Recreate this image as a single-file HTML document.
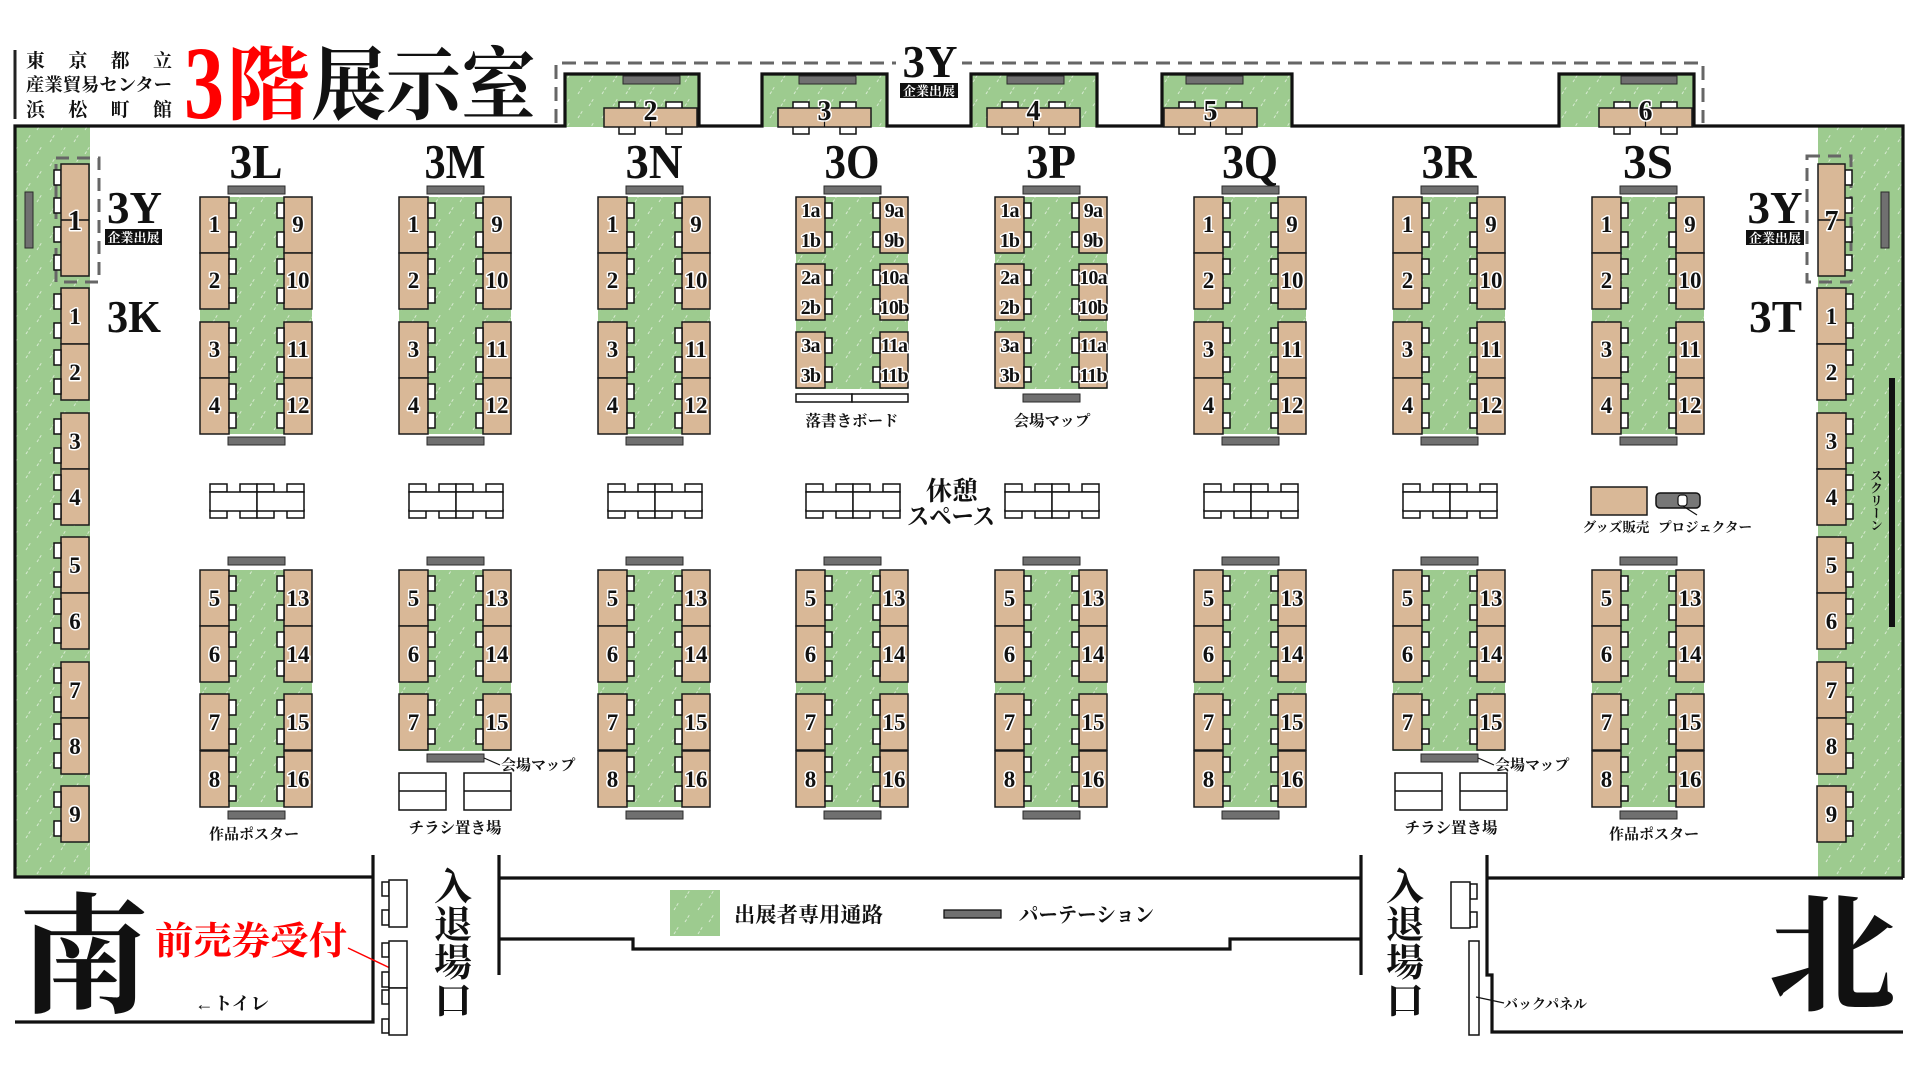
<!DOCTYPE html>
<html><head><meta charset="utf-8">
<style>
html,body{margin:0;padding:0;background:#fff;width:1920px;height:1080px;overflow:hidden}
#w{position:relative;width:1920px;height:1080px;background:#fff}
svg{position:absolute;left:0;top:0}
.t{fill:#d9b897;stroke:#1a1a1a;stroke-width:1.5}
.c{fill:#fff;stroke:#111;stroke-width:1.5}
.p{fill:#707070;stroke:#2a2a2a;stroke-width:1}
.n{font-family:"Liberation Serif",serif;font-weight:bold;font-size:23px;text-anchor:middle;fill:#111;stroke:#fff;stroke-width:3px;paint-order:stroke;stroke-linejoin:round}
.s{font-size:20px;letter-spacing:-0.8px}
.b{font-size:28px}
.h{font-family:"Liberation Serif",serif;font-weight:bold;text-anchor:middle;fill:#111}
.j{font-family:"Liberation Serif","Noto Serif CJK SC",serif;font-weight:bold;fill:#111}
.m{text-anchor:middle}
.wl{fill:none;stroke:#111;stroke-width:3.2;stroke-linejoin:miter}
.vt{position:absolute;writing-mode:vertical-rl;font-family:"Liberation Serif","Noto Serif CJK SC",serif;font-weight:bold;color:#111;line-height:1}
</style></head>
<body><div id="w">
<svg width="1920" height="1080" viewBox="0 0 1920 1080" xmlns="http://www.w3.org/2000/svg">
<defs>
<pattern id="hp" width="24" height="24" patternUnits="userSpaceOnUse"><rect width="24" height="24" fill="#9dcb8f"/><path d="M2,22 L7,14 M13,10 L18,2" stroke="#fff" stroke-opacity=".6" stroke-width="1" stroke-dasharray="3 2"/></pattern>
<g id="tl"><rect class="t" width="29" height="56"/><rect class="c" x="29" y="6" width="7" height="15"/><rect class="c" x="29" y="35" width="7" height="15"/></g>
<g id="tr"><rect class="t" width="28" height="56"/><rect class="c" x="-7" y="6" width="7" height="15"/><rect class="c" x="-7" y="35" width="7" height="15"/></g>
<g id="cu"><rect x="0" y="197" width="112" height="237" fill="url(#hp)"/><rect class="p" x="28" y="186" width="57" height="8"/><rect class="p" x="28" y="437" width="57" height="8"/><use href="#tl" y="197"/><use href="#tl" y="253"/><use href="#tl" y="322"/><use href="#tl" y="378"/><use href="#tr" x="84" y="197"/><use href="#tr" x="84" y="253"/><use href="#tr" x="84" y="322"/><use href="#tr" x="84" y="378"/></g>
<g id="cl"><rect x="0" y="570" width="112" height="237" fill="url(#hp)"/><rect class="p" x="28" y="557" width="57" height="8"/><rect class="p" x="28" y="811" width="57" height="8"/><use href="#tl" y="570"/><use href="#tl" y="626"/><use href="#tl" y="694"/><use href="#tl" y="751"/><use href="#tr" x="84" y="570"/><use href="#tr" x="84" y="626"/><use href="#tr" x="84" y="694"/><use href="#tr" x="84" y="751"/></g>
<g id="c7"><rect x="0" y="570" width="112" height="181" fill="url(#hp)"/><rect class="p" x="28" y="557" width="57" height="8"/><rect class="p" x="28" y="754" width="57" height="8"/><use href="#tl" y="570"/><use href="#tl" y="626"/><use href="#tl" y="694"/><use href="#tr" x="84" y="570"/><use href="#tr" x="84" y="626"/><use href="#tr" x="84" y="694"/></g>
<g id="cab"><rect x="0" y="197" width="112" height="192" fill="url(#hp)"/><rect class="p" x="28" y="186" width="57" height="8"/><use href="#tl" y="197"/><use href="#tl" y="264"/><use href="#tl" y="332"/><use href="#tr" x="84" y="197"/><use href="#tr" x="84" y="264"/><use href="#tr" x="84" y="332"/></g>
<g id="rt"><rect class="c" x="0" y="484" width="17" height="8"/><rect class="c" x="30" y="484" width="17" height="8"/><rect class="c" x="47" y="484" width="17" height="8"/><rect class="c" x="77" y="484" width="17" height="8"/><rect class="c" x="0" y="510" width="17" height="8"/><rect class="c" x="30" y="510" width="17" height="8"/><rect class="c" x="47" y="510" width="17" height="8"/><rect class="c" x="77" y="510" width="17" height="8"/><rect class="c" x="0" y="492" width="47" height="19"/><rect class="c" x="47" y="492" width="47" height="19"/></g>
<g id="al"><rect class="c" x="15" y="102" width="16" height="7"/><rect class="c" x="62" y="102" width="16" height="7"/><rect class="c" x="15" y="126" width="16" height="8"/><rect class="c" x="62" y="126" width="16" height="8"/><rect class="t" x="0" y="108" width="93" height="19"/><line x1="46.5" y1="108" x2="46.5" y2="127" stroke="#111" stroke-width="1.2"/></g>
</defs>

<!-- header -->
<rect x="13.5" y="50" width="3" height="69" fill="#222"/>
<text class="j" x="26" y="67" font-size="19" textLength="146" lengthAdjust="spacing">東京都立</text>
<text class="j" x="26" y="91" font-size="18" textLength="146" lengthAdjust="spacingAndGlyphs">産業貿易センター</text>
<text class="j" x="26" y="116" font-size="19" textLength="146" lengthAdjust="spacing">浜松町館</text>
<text x="184" y="118" font-family="Liberation Serif,serif" font-weight="bold" font-size="104" fill="#f00" textLength="40" lengthAdjust="spacingAndGlyphs">3</text>
<text class="j" x="226" y="113" font-size="80" style="fill:#f00" textLength="84" lengthAdjust="spacingAndGlyphs" font-weight="900">階</text>
<text class="j" x="311" y="113" font-size="80" textLength="225" lengthAdjust="spacingAndGlyphs" font-weight="900">展示室</text>

<!-- green strips & alcoves -->
<rect x="15" y="126" width="75" height="751" fill="url(#hp)"/>
<rect x="1818" y="126" width="85" height="752" fill="url(#hp)"/>
<rect x="565" y="74" width="134" height="53" fill="url(#hp)"/>
<rect x="762" y="74" width="125" height="53" fill="url(#hp)"/>
<rect x="971" y="74" width="126" height="53" fill="url(#hp)"/>
<rect x="1162" y="74" width="130" height="53" fill="url(#hp)"/>
<rect x="1559" y="74" width="135" height="53" fill="url(#hp)"/>

<!-- top dashed 3Y -->
<path d="M556,123 V63 H1703 V123" fill="none" stroke="#666" stroke-width="3" stroke-dasharray="14 8"/>
<rect x="896" y="44" width="66" height="56" fill="#fff"/>
<text class="h" x="930" y="77" font-size="46" textLength="55" lengthAdjust="spacingAndGlyphs">3Y</text>
<rect x="900" y="83" width="58" height="15" fill="#111"/>
<text class="j m" x="929" y="95.5" font-size="12.5" style="fill:#fff" textLength="52" lengthAdjust="spacingAndGlyphs">企業出展</text>

<!-- walls -->
<path class="wl" d="M373,877 H15 V126 H565 V74 H699 V126 H762 V74 H887 V126 H971 V74 H1097 V126 H1162 V74 H1292 V126 H1559 V74 H1694 V126 H1903 V878"/>
<path class="wl" d="M15,1022 H373 V855"/>
<path class="wl" d="M499,855 V975 M499,878 H1361 M499,939 H633 V949 H1230 V939 H1361 M1361,855 V975"/>
<path class="wl" d="M1487,855 V975 H1492 V1032 H1903 M1487,878 H1903"/>

<!-- alcove furniture -->
<rect class="p" x="623" y="76" width="57" height="8"/>
<rect class="p" x="799" y="76" width="57" height="8"/>
<rect class="p" x="1007" y="76" width="57" height="8"/>
<rect class="p" x="1186" y="76" width="57" height="8"/>
<rect class="p" x="1621" y="76" width="56" height="8"/>
<use href="#al" x="604"/><use href="#al" x="778"/><use href="#al" x="987"/><use href="#al" x="1164"/><use href="#al" x="1599"/>
<text class="n b" x="650.5" y="120">2</text>
<text class="n b" x="824.5" y="120">3</text>
<text class="n b" x="1033.5" y="120">4</text>
<text class="n b" x="1210.5" y="120">5</text>
<text class="n b" x="1645.5" y="120">6</text>

<!-- left strip -->
<rect class="p" x="25" y="192" width="8" height="56"/>
<rect x="56" y="158" width="43" height="124" fill="none" stroke="#666" stroke-width="3" stroke-dasharray="13 8"/>
<rect class="c" x="54" y="170" width="7" height="15"/><rect class="c" x="54" y="198" width="7" height="15"/><rect class="c" x="54" y="227" width="7" height="15"/><rect class="c" x="54" y="255" width="7" height="15"/>
<rect class="t" x="61" y="164" width="28" height="112"/><line x1="61" y1="220" x2="89" y2="220" stroke="#111" stroke-width="1.5"/>
<text class="n b" x="75" y="230">1</text>
<use href="#tr" x="61" y="288"/><use href="#tr" x="61" y="344"/><use href="#tr" x="61" y="413"/><use href="#tr" x="61" y="469"/><use href="#tr" x="61" y="537"/><use href="#tr" x="61" y="593"/><use href="#tr" x="61" y="662"/><use href="#tr" x="61" y="718"/><use href="#tr" x="61" y="786"/>
<text class="n" x="75" y="324">1</text><text class="n" x="75" y="380">2</text><text class="n" x="75" y="449">3</text><text class="n" x="75" y="505">4</text><text class="n" x="75" y="573">5</text><text class="n" x="75" y="629">6</text><text class="n" x="75" y="698">7</text><text class="n" x="75" y="754">8</text><text class="n" x="75" y="822">9</text>
<text class="h" x="134.5" y="223" font-size="46" textLength="55" lengthAdjust="spacingAndGlyphs">3Y</text>
<rect x="105" y="229" width="57" height="16" fill="#111"/>
<text class="j m" x="133.5" y="242" font-size="12.5" style="fill:#fff" textLength="52" lengthAdjust="spacingAndGlyphs">企業出展</text>
<text class="h" x="134" y="332" font-size="46" textLength="54" lengthAdjust="spacingAndGlyphs">3K</text>

<!-- right strip -->
<rect class="p" x="1881" y="192" width="8" height="56"/>
<rect x="1889" y="378" width="6" height="249" fill="#111"/>
<rect x="1807" y="156" width="44" height="126" fill="none" stroke="#666" stroke-width="3" stroke-dasharray="13 8"/>
<rect class="c" x="1845" y="170" width="7" height="15"/><rect class="c" x="1845" y="198" width="7" height="15"/><rect class="c" x="1845" y="227" width="7" height="15"/><rect class="c" x="1845" y="255" width="7" height="15"/>
<rect class="t" x="1818" y="164" width="27" height="112"/><line x1="1818" y1="220" x2="1845" y2="220" stroke="#111" stroke-width="1.5"/>
<text class="n b" x="1831.5" y="230">7</text>
<use href="#tl" x="1817" y="288"/><use href="#tl" x="1817" y="344"/><use href="#tl" x="1817" y="413"/><use href="#tl" x="1817" y="469"/><use href="#tl" x="1817" y="537"/><use href="#tl" x="1817" y="593"/><use href="#tl" x="1817" y="662"/><use href="#tl" x="1817" y="718"/><use href="#tl" x="1817" y="786"/>
<text class="n" x="1831.5" y="324">1</text><text class="n" x="1831.5" y="380">2</text><text class="n" x="1831.5" y="449">3</text><text class="n" x="1831.5" y="505">4</text><text class="n" x="1831.5" y="573">5</text><text class="n" x="1831.5" y="629">6</text><text class="n" x="1831.5" y="698">7</text><text class="n" x="1831.5" y="754">8</text><text class="n" x="1831.5" y="822">9</text>
<text class="h" x="1775" y="223" font-size="46" textLength="55" lengthAdjust="spacingAndGlyphs">3Y</text>
<rect x="1746" y="230" width="58" height="15" fill="#111"/>
<text class="j m" x="1775" y="242.5" font-size="12.5" style="fill:#fff" textLength="52" lengthAdjust="spacingAndGlyphs">企業出展</text>
<text class="h" x="1775.5" y="332" font-size="46" textLength="53" lengthAdjust="spacingAndGlyphs">3T</text>

<!-- 3L -->
<g transform="translate(200,0)">
<use href="#cu"/><use href="#cl"/><use href="#rt" x="10"/>
<text class="h" x="56" y="178" font-size="49" textLength="53" lengthAdjust="spacingAndGlyphs">3L</text>
<text class="n" x="14.5" y="232">1</text><text class="n" x="14.5" y="288">2</text><text class="n" x="14.5" y="357">3</text><text class="n" x="14.5" y="413">4</text>
<text class="n" x="98" y="232">9</text><text class="n" x="98" y="288">10</text><text class="n" x="98" y="357">11</text><text class="n" x="98" y="413">12</text>
<text class="n" x="14.5" y="606">5</text><text class="n" x="14.5" y="662">6</text><text class="n" x="14.5" y="730">7</text><text class="n" x="14.5" y="787">8</text>
<text class="n" x="98" y="606">13</text><text class="n" x="98" y="662">14</text><text class="n" x="98" y="730">15</text><text class="n" x="98" y="787">16</text>
<text class="j m" x="54" y="839" font-size="15">作品ポスター</text>
</g>

<!-- 3M -->
<g transform="translate(399,0)">
<use href="#cu"/><use href="#c7"/><use href="#rt" x="10"/>
<text class="h" x="56" y="178" font-size="49" textLength="61" lengthAdjust="spacingAndGlyphs">3M</text>
<text class="n" x="14.5" y="232">1</text><text class="n" x="14.5" y="288">2</text><text class="n" x="14.5" y="357">3</text><text class="n" x="14.5" y="413">4</text>
<text class="n" x="98" y="232">9</text><text class="n" x="98" y="288">10</text><text class="n" x="98" y="357">11</text><text class="n" x="98" y="413">12</text>
<text class="n" x="14.5" y="606">5</text><text class="n" x="14.5" y="662">6</text><text class="n" x="14.5" y="730">7</text>
<text class="n" x="98" y="606">13</text><text class="n" x="98" y="662">14</text><text class="n" x="98" y="730">15</text>
<line x1="85" y1="758" x2="101" y2="765" stroke="#111" stroke-width="1.2"/>
<text class="j" x="102" y="770" font-size="15">会場マップ</text>
<rect class="c" x="0" y="773" width="47" height="37"/><line x1="0" y1="791" x2="47" y2="791" stroke="#111" stroke-width="1.5"/>
<rect class="c" x="65" y="773" width="47" height="37"/><line x1="65" y1="791" x2="112" y2="791" stroke="#111" stroke-width="1.5"/>
<text class="j m" x="56" y="833" font-size="15.5">チラシ置き場</text>
</g>

<!-- 3N -->
<g transform="translate(598,0)">
<use href="#cu"/><use href="#cl"/><use href="#rt" x="10"/>
<text class="h" x="56" y="178" font-size="49" textLength="57" lengthAdjust="spacingAndGlyphs">3N</text>
<text class="n" x="14.5" y="232">1</text><text class="n" x="14.5" y="288">2</text><text class="n" x="14.5" y="357">3</text><text class="n" x="14.5" y="413">4</text>
<text class="n" x="98" y="232">9</text><text class="n" x="98" y="288">10</text><text class="n" x="98" y="357">11</text><text class="n" x="98" y="413">12</text>
<text class="n" x="14.5" y="606">5</text><text class="n" x="14.5" y="662">6</text><text class="n" x="14.5" y="730">7</text><text class="n" x="14.5" y="787">8</text>
<text class="n" x="98" y="606">13</text><text class="n" x="98" y="662">14</text><text class="n" x="98" y="730">15</text><text class="n" x="98" y="787">16</text>
</g>

<!-- 3O -->
<g transform="translate(796,0)">
<use href="#cab"/><use href="#cl"/><use href="#rt" x="10"/>
<rect class="c" x="0" y="394" width="56" height="8"/><rect class="c" x="56" y="394" width="56" height="8"/>
<text class="j m" x="56" y="426" font-size="15.5">落書きボード</text>
<text class="h" x="56" y="178" font-size="49" textLength="55" lengthAdjust="spacingAndGlyphs">3O</text>
<text class="n s" x="14.5" y="217">1a</text><text class="n s" x="14.5" y="247">1b</text><text class="n s" x="14.5" y="284">2a</text><text class="n s" x="14.5" y="314">2b</text><text class="n s" x="14.5" y="352">3a</text><text class="n s" x="14.5" y="382">3b</text>
<text class="n s" x="98" y="217">9a</text><text class="n s" x="98" y="247">9b</text><text class="n s" x="98" y="284">10a</text><text class="n s" x="98" y="314">10b</text><text class="n s" x="98" y="352">11a</text><text class="n s" x="98" y="382">11b</text>
<text class="n" x="14.5" y="606">5</text><text class="n" x="14.5" y="662">6</text><text class="n" x="14.5" y="730">7</text><text class="n" x="14.5" y="787">8</text>
<text class="n" x="98" y="606">13</text><text class="n" x="98" y="662">14</text><text class="n" x="98" y="730">15</text><text class="n" x="98" y="787">16</text>
</g>

<!-- 3P -->
<g transform="translate(995,0)">
<use href="#cab"/><use href="#cl"/><use href="#rt" x="10"/>
<rect class="p" x="28" y="394" width="57" height="8"/>
<text class="j m" x="57" y="426" font-size="15.5">会場マップ</text>
<text class="h" x="56" y="178" font-size="49" textLength="50" lengthAdjust="spacingAndGlyphs">3P</text>
<text class="n s" x="14.5" y="217">1a</text><text class="n s" x="14.5" y="247">1b</text><text class="n s" x="14.5" y="284">2a</text><text class="n s" x="14.5" y="314">2b</text><text class="n s" x="14.5" y="352">3a</text><text class="n s" x="14.5" y="382">3b</text>
<text class="n s" x="98" y="217">9a</text><text class="n s" x="98" y="247">9b</text><text class="n s" x="98" y="284">10a</text><text class="n s" x="98" y="314">10b</text><text class="n s" x="98" y="352">11a</text><text class="n s" x="98" y="382">11b</text>
<text class="n" x="14.5" y="606">5</text><text class="n" x="14.5" y="662">6</text><text class="n" x="14.5" y="730">7</text><text class="n" x="14.5" y="787">8</text>
<text class="n" x="98" y="606">13</text><text class="n" x="98" y="662">14</text><text class="n" x="98" y="730">15</text><text class="n" x="98" y="787">16</text>
</g>

<!-- rest space label -->
<text class="j m" x="952" y="500" font-size="26">休憩</text>
<text class="j m" x="951" y="525" font-size="25" textLength="88" lengthAdjust="spacingAndGlyphs">スペース</text>

<!-- 3Q -->
<g transform="translate(1194,0)">
<use href="#cu"/><use href="#cl"/><use href="#rt" x="10"/>
<text class="h" x="56" y="178" font-size="49" textLength="56" lengthAdjust="spacingAndGlyphs">3Q</text>
<text class="n" x="14.5" y="232">1</text><text class="n" x="14.5" y="288">2</text><text class="n" x="14.5" y="357">3</text><text class="n" x="14.5" y="413">4</text>
<text class="n" x="98" y="232">9</text><text class="n" x="98" y="288">10</text><text class="n" x="98" y="357">11</text><text class="n" x="98" y="413">12</text>
<text class="n" x="14.5" y="606">5</text><text class="n" x="14.5" y="662">6</text><text class="n" x="14.5" y="730">7</text><text class="n" x="14.5" y="787">8</text>
<text class="n" x="98" y="606">13</text><text class="n" x="98" y="662">14</text><text class="n" x="98" y="730">15</text><text class="n" x="98" y="787">16</text>
</g>

<!-- 3R -->
<g transform="translate(1393,0)">
<use href="#cu"/><use href="#c7"/><use href="#rt" x="10"/>
<text class="h" x="56" y="178" font-size="49" textLength="55" lengthAdjust="spacingAndGlyphs">3R</text>
<text class="n" x="14.5" y="232">1</text><text class="n" x="14.5" y="288">2</text><text class="n" x="14.5" y="357">3</text><text class="n" x="14.5" y="413">4</text>
<text class="n" x="98" y="232">9</text><text class="n" x="98" y="288">10</text><text class="n" x="98" y="357">11</text><text class="n" x="98" y="413">12</text>
<text class="n" x="14.5" y="606">5</text><text class="n" x="14.5" y="662">6</text><text class="n" x="14.5" y="730">7</text>
<text class="n" x="98" y="606">13</text><text class="n" x="98" y="662">14</text><text class="n" x="98" y="730">15</text>
<line x1="85" y1="758" x2="101" y2="765" stroke="#111" stroke-width="1.2"/>
<text class="j" x="102" y="770" font-size="15">会場マップ</text>
<rect class="c" x="2" y="773" width="47" height="37"/><line x1="2" y1="791" x2="49" y2="791" stroke="#111" stroke-width="1.5"/>
<rect class="c" x="67" y="773" width="47" height="37"/><line x1="67" y1="791" x2="114" y2="791" stroke="#111" stroke-width="1.5"/>
<text class="j m" x="58" y="833" font-size="15.5">チラシ置き場</text>
</g>

<!-- 3S -->
<g transform="translate(1592,0)">
<use href="#cu"/><use href="#cl"/>
<text class="h" x="56" y="178" font-size="49" textLength="50" lengthAdjust="spacingAndGlyphs">3S</text>
<text class="n" x="14.5" y="232">1</text><text class="n" x="14.5" y="288">2</text><text class="n" x="14.5" y="357">3</text><text class="n" x="14.5" y="413">4</text>
<text class="n" x="98" y="232">9</text><text class="n" x="98" y="288">10</text><text class="n" x="98" y="357">11</text><text class="n" x="98" y="413">12</text>
<text class="n" x="14.5" y="606">5</text><text class="n" x="14.5" y="662">6</text><text class="n" x="14.5" y="730">7</text><text class="n" x="14.5" y="787">8</text>
<text class="n" x="98" y="606">13</text><text class="n" x="98" y="662">14</text><text class="n" x="98" y="730">15</text><text class="n" x="98" y="787">16</text>
<text class="j m" x="62" y="839" font-size="15">作品ポスター</text>
</g>

<!-- goods & projector -->
<rect class="t" x="1591" y="487" width="56" height="28"/>
<text class="j m" x="1616" y="532" font-size="13.5">グッズ販売</text>
<rect x="1656" y="493" width="44" height="15" rx="4" fill="#777" stroke="#111" stroke-width="1.5"/>
<rect x="1678" y="495" width="9" height="11" rx="3" fill="#fff" stroke="#111" stroke-width="1.2"/>
<line x1="1683" y1="506" x2="1697" y2="515" stroke="#111" stroke-width="1.2"/>
<text class="j m" x="1705" y="532" font-size="13.5">プロジェクター</text>

<!-- bottom area -->
<text class="j" x="19" y="1002" font-size="130" font-weight="900">南</text>
<text class="j" x="1768" y="1000" font-size="128" font-weight="900">北</text>
<text class="j" x="155" y="954" font-size="38" style="fill:#f00" textLength="192" lengthAdjust="spacingAndGlyphs">前売券受付</text>
<line x1="348" y1="948" x2="390" y2="968" stroke="#f00" stroke-width="1.5"/>
<text class="j" x="195" y="1010" font-size="18" font-weight="normal" textLength="74" lengthAdjust="spacingAndGlyphs">←トイレ</text>

<!-- reception desks -->
<rect class="c" x="382" y="882" width="7" height="14"/><rect class="c" x="382" y="910" width="7" height="15"/>
<rect class="c" x="389" y="880" width="18" height="47"/>
<rect class="c" x="382" y="943" width="7" height="14"/><rect class="c" x="382" y="972" width="7" height="15"/><rect class="c" x="382" y="990" width="7" height="14"/><rect class="c" x="382" y="1019" width="7" height="14"/>
<rect class="c" x="389" y="941" width="18" height="47"/><rect class="c" x="389" y="988" width="18" height="47"/>

<rect class="c" x="1470" y="884" width="7" height="15"/><rect class="c" x="1470" y="912" width="7" height="15"/>
<rect class="c" x="1451" y="882" width="19" height="46"/>
<rect class="c" x="1469" y="941" width="10" height="94"/>
<line x1="1476" y1="997" x2="1504" y2="1003" stroke="#111" stroke-width="1.2"/>
<text class="j" x="1504" y="1009" font-size="14">バックパネル</text>

<!-- entrances -->
<text class="j m" x="453" y="900" font-size="38">入</text>
<text class="j m" x="453" y="938" font-size="38">退</text>
<text class="j m" x="453" y="976" font-size="38">場</text>
<text class="j m" x="453" y="1014" font-size="38">口</text>
<text class="j m" x="1405" y="900" font-size="38">入</text>
<text class="j m" x="1405" y="938" font-size="38">退</text>
<text class="j m" x="1405" y="976" font-size="38">場</text>
<text class="j m" x="1405" y="1014" font-size="38">口</text>

<!-- legend -->
<rect x="670" y="890" width="50" height="46" fill="url(#hp)"/>
<text class="j" x="734" y="922" font-size="21" textLength="149" lengthAdjust="spacingAndGlyphs">出展者専用通路</text>
<rect class="p" x="944" y="910" width="57" height="8" style="stroke:#111;stroke-width:1.3"/>
<text class="j" x="1019" y="922" font-size="21" textLength="135" lengthAdjust="spacingAndGlyphs">パーテーション</text>
</svg>
<div class="vt" style="left:1869px;top:469px;font-size:12.5px;">スクリーン</div>
</div></body></html>
